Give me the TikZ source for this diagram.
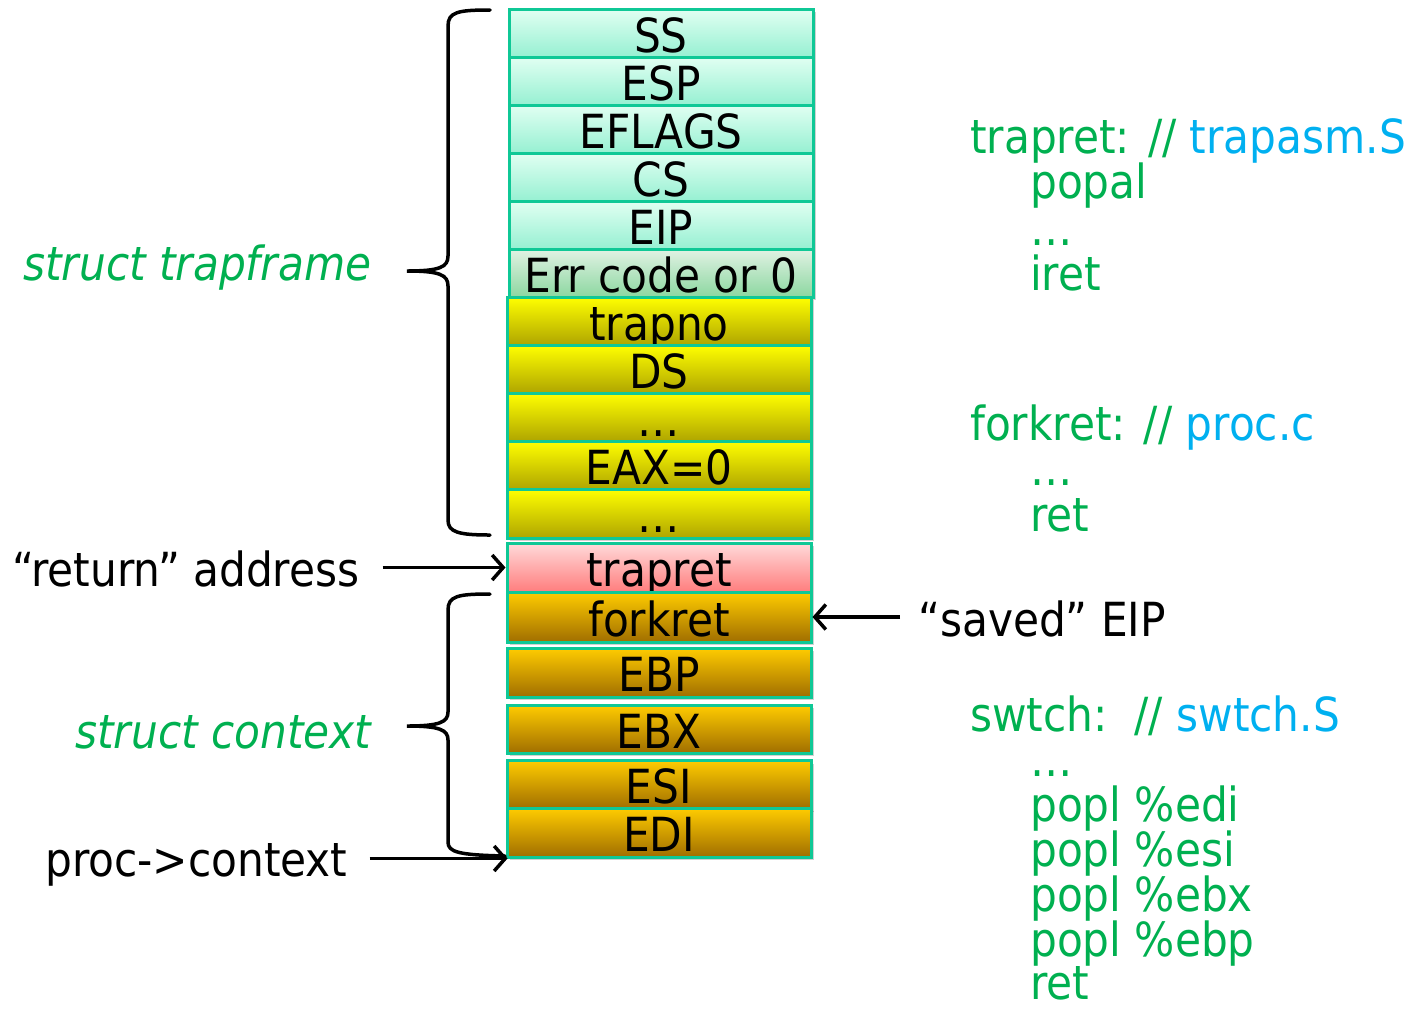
\documentclass[tikz,border=0pt]{standalone}
\usepackage{fontspec}
\setmainfont{DejaVuSansCondensed}[Extension=.ttf, ItalicFont=DejaVuSansCondensed-Oblique]
\usetikzlibrary{arrows.meta,shadows}

\definecolor{cellline}{RGB}{15,200,150}
\definecolor{tealtop}{RGB}{225,255,242}
\definecolor{tealbot}{RGB}{150,240,210}
\definecolor{errtop}{RGB}{225,242,228}
\definecolor{errbot}{RGB}{140,215,160}
\definecolor{yeltop}{RGB}{255,255,0}
\definecolor{yelbot}{RGB}{175,165,0}
\definecolor{pinktop}{RGB}{255,218,218}
\definecolor{pinkbot}{RGB}{255,125,125}
\definecolor{orgtop}{RGB}{255,204,0}
\definecolor{orgbot}{RGB}{160,110,0}
\definecolor{codegreen}{RGB}{0,176,80}
\definecolor{fileblue}{RGB}{0,176,240}

\tikzset{
  bigfont/.style={font=\fontsize{47pt}{56pt}\selectfont},
  cell/.style={bigfont, draw=cellline, line width=3pt, inner xsep=0pt, inner ysep=0pt,
    minimum width=304pt, text height=43pt, text depth=5pt,
    drop shadow={shadow xshift=3pt, shadow yshift=-3pt, opacity=0.18, fill=black}},
  tealcell/.style={cell, top color=tealtop, bottom color=tealbot},
  errcell/.style={cell, top color=errtop, bottom color=errbot},
  yelcell/.style={cell, top color=yeltop, bottom color=yelbot},
  pinkcell/.style={cell, top color=pinktop, bottom color=pinkbot},
  orgcell/.style={cell, top color=orgtop, bottom color=orgbot},
  lbl/.style={bigfont, inner sep=0pt, anchor=base west},
  code/.style={lbl, text=codegreen},
  arr/.style={line width=3.5pt, -{Straight Barb[length=11pt, width=25pt]}},
  brace/.style={line width=3.5pt, line cap=round}
}

\begin{document}
\begin{tikzpicture}[x=1pt, y=-1pt]
\useasboundingbox (0,0) rectangle (1414,1010);

% trap frame pushed by hardware and alltraps
\node[tealcell, minimum height=48pt] (ss)     at (661,33)  {SS};
\node[tealcell, minimum height=48pt] (esp)    at (661,81)  {ESP};
\node[tealcell, minimum height=48pt] (eflags) at (661,129) {EFLAGS};
\node[tealcell, minimum height=48pt] (cs)     at (661,177) {CS};
\node[tealcell, minimum height=48pt] (eip)    at (661,225) {EIP};
\node[errcell,  minimum height=48pt] (err)    at (661,273) {Err code or 0};

\node[yelcell, minimum height=48pt] (trapno) at (659,321) {trapno};
\node[yelcell, minimum height=48pt] (ds)     at (659,369) {DS};
\node[yelcell, minimum height=48pt] (dotsa)  at (659,417) {…};
\node[yelcell, minimum height=48pt] (eax)    at (659,465) {EAX=0};
\node[yelcell, minimum height=49pt] (dotsb)  at (659,513.5) {…};

% return address into trapret
\node[pinkcell, minimum height=49pt] (trapret) at (659,567.5) {trapret};

% saved context
\node[orgcell, minimum height=50pt] (forkret) at (659,617) {forkret};
\node[orgcell, minimum height=49pt] (ebp)     at (659,672.5) {EBP};
\node[orgcell, minimum height=48pt] (ebx)     at (659,729) {EBX};
\node[orgcell, minimum height=47pt] (esi)     at (659,784.5) {ESI};
\node[orgcell, minimum height=49pt] (edi)     at (659,832.5) {EDI};

% labels on the left
\node[lbl, text=codegreen] (tfname) at (23,280) {\itshape struct trapframe};
\node[lbl] (retaddr) at (12,586) {“return” address};
\node[lbl, text=codegreen] (ctxname) at (75,748) {\itshape struct context};
\node[lbl] (procctx) at (45,876) {proc->context};
\node[lbl] (savedeip) at (918,636) {“saved” EIP};

% braces
\draw[brace] (490,10) .. controls (458,10) and (448,12) .. (448,26)
  -- (448,256) .. controls (448,267) and (440,271) .. (407,271)
  .. controls (440,271) and (448,275) .. (448,286)
  -- (448,520) .. controls (448,532) and (458,535) .. (490,535);
\draw[brace] (490,594) .. controls (458,594) and (448,596) .. (448,610)
  -- (448,712) .. controls (448,722) and (440,726) .. (407,726)
  .. controls (440,726) and (448,730) .. (448,740)
  -- (448,842) .. controls (448,852) and (458,855) .. (505,856);

% pointers
\draw[arr, shorten <=23pt] (retaddr.east |- trapret.west) -- (trapret.west);
\draw[arr, shorten <=22pt] (procctx.east |- edi.south west) -- ([xshift=2pt]edi.south west);
\draw[arr, shorten <=18pt] (savedeip.west |- forkret.east) -- (forkret.east);

% code fragments on the right
\node[code] (trapretc) at (970,153) {trapret: // \textcolor{fileblue}{trapasm.S}};
\node[code] (popal)  at (1030,198) {popal};
\node[code] (tdots)  at (1030,245) {…};
\node[code] (iret)   at (1030,290) {iret};

\node[code] (forkretc) at (970,440) {forkret: // \textcolor{fileblue}{proc.c}};
\node[code] (fdots)  at (1030,485) {…};
\node[code] (fret)   at (1030,531) {ret};

\node[code] (swtchc) at (970,731) {swtch:\ \ // \textcolor{fileblue}{swtch.S}};
\node[code] (sdots)  at (1030,776) {…};
\node[code] (pedi)   at (1030,821) {popl \%edi};
\node[code] (pesi)   at (1030,866) {popl \%esi};
\node[code] (pebx)   at (1030,911) {popl \%ebx};
\node[code] (pebp)   at (1030,956) {popl \%ebp};
\node[code] (sret)   at (1030,999) {ret};
\end{tikzpicture}
\end{document}
